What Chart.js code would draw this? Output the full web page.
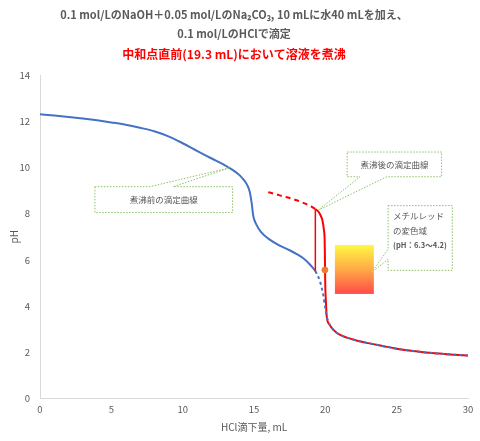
<!DOCTYPE html>
<html>
<head>
<meta charset="utf-8">
<script src="https://cdn.jsdelivr.net/npm/chart.js@4.4.1/dist/chart.umd.min.js"></script>
<style>
  html, body { margin: 0; padding: 0; background: #fff; }
  #wrap { width: 480px; height: 441px; }
</style>
</head>
<body>
<div id="wrap"><canvas id="chart"></canvas></div>
<script>
// titration before boiling (solid blue, up to 19.3 mL)
const beforeX  = [0, 1, 2, 3, 4, 5, 6, 7, 8, 9, 10, 11, 12, 13, 13.5, 14, 14.3, 14.5, 14.7, 14.85, 14.95, 15.15, 15.5, 16.1, 16.8, 17.5, 18, 18.5, 19, 19.3];
const beforePH = [12.3, 12.25, 12.19, 12.12, 12.04, 11.95, 11.85, 11.72, 11.57, 11.35, 11.05, 10.72, 10.4, 10.08, 9.9, 9.66, 9.45, 9.27, 8.95, 8.4, 7.9, 7.55, 7.2, 6.88, 6.62, 6.42, 6.25, 6.05, 5.75, 5.52];

// continuation without boiling (dashed blue)
const noBoilX  = [19.3, 19.6, 19.85, 20.0, 20.1, 20.3, 20.6, 21, 22, 23, 24, 25, 26, 27, 28, 29, 30];
const noBoilPH = [5.52, 5.12, 4.5, 3.9, 3.55, 3.2, 2.95, 2.77, 2.55, 2.4, 2.28, 2.16, 2.07, 2.0, 1.95, 1.9, 1.86];

// boiled solution, extrapolated back (dashed red)
const boilBackX  = [16, 16.5, 17, 17.5, 18, 18.5, 19, 19.3];
const boilBackPH = [8.93, 8.85, 8.76, 8.68, 8.58, 8.46, 8.32, 8.2];

// after boiling (solid red)
const afterX  = [19.3, 19.5, 19.65, 19.8, 19.9, 19.95, 19.97, 19.98, 20.0, 20.04, 20.1, 20.3, 20.6, 21, 22, 23, 24, 25, 26, 27, 28, 29, 30];
const afterPH = [8.2, 8.1, 7.95, 7.7, 7.3, 6.9, 6.2, 5.5, 4.8, 4.2, 3.55, 3.2, 2.95, 2.77, 2.55, 2.4, 2.28, 2.16, 2.07, 2.0, 1.95, 1.9, 1.86];

// pH jump on boiling at 19.3 mL
const jumpX  = [19.3, 19.3];
const jumpPH = [8.2, 5.52];

// equivalence marker
const markX  = [19.97];
const markPH = [5.57];

// methyl red transition range box (mL, pH)
const indicatorX  = [20.67, 23.4];
const indicatorPH = [4.53, 6.65];

// callouts: box [x1, y1, x2, y2] in data units, wedge base on one side, tip
const calloutText = [['煮沸前の滴定曲線'], ['煮沸後の滴定曲線'], ['メチルレッド', 'の変色域', '(pH：6.3～4.2)']];
const calloutBox  = [[3.85, 9.17, 13.5, 8.05], [21.53, 10.67, 28.15, 9.6], [24.4, 8.35, 28.9, 5.55]];
const calloutSide = ['top', 'bottom', 'left'];
const calloutBase = [[7.7, 9.34], [22.43, 24.3], [6.47, 6.03]];
const calloutTip  = [[13.31, 9.99], [19.5, 8.15], [23.24, 5.45]];

const BLUE = '#4472C4';
const RED = '#FF0000';
const GREEN = '#8CC168';
const TXT = '#595959';
const JP = "'Noto Sans CJK JP', 'Noto Sans', sans-serif";

function pts(xs, ys){ return xs.map((x, i) => ({x, y: ys[i]})); }

const overlay = {
  id: 'overlay',
  afterDatasetsDraw(chart){
    const ctx = chart.ctx, sx = chart.scales.x, sy = chart.scales.y;
    // indicator gradient box
    const x1 = sx.getPixelForValue(indicatorX[0]), x2 = sx.getPixelForValue(indicatorX[1]);
    const yt = sy.getPixelForValue(indicatorPH[1]), yb = sy.getPixelForValue(indicatorPH[0]);
    const g = ctx.createLinearGradient(0, yt, 0, yb);
    g.addColorStop(0, '#FFF845');
    g.addColorStop(0.5, '#FFAA45');
    g.addColorStop(1, '#FF4B4B');
    ctx.save();
    ctx.fillStyle = g;
    ctx.fillRect(x1, yt, x2 - x1, yb - yt);
    ctx.restore();

    calloutText.forEach((lines, i) => {
      const b = calloutBox[i];
      const L = sx.getPixelForValue(b[0]), T = sy.getPixelForValue(b[1]);
      const R = sx.getPixelForValue(b[2]), B = sy.getPixelForValue(b[3]);
      const tx = sx.getPixelForValue(calloutTip[i][0]), ty = sy.getPixelForValue(calloutTip[i][1]);
      const side = calloutSide[i], base = calloutBase[i];
      ctx.save();
      ctx.beginPath();
      ctx.moveTo(L, T);
      if(side === 'top'){
        ctx.lineTo(sx.getPixelForValue(base[0]), T); ctx.lineTo(tx, ty);
        ctx.lineTo(sx.getPixelForValue(base[1]), T);
      }
      ctx.lineTo(R, T);
      ctx.lineTo(R, B);
      if(side === 'bottom'){
        ctx.lineTo(sx.getPixelForValue(base[1]), B); ctx.lineTo(tx, ty);
        ctx.lineTo(sx.getPixelForValue(base[0]), B);
      }
      ctx.lineTo(L, B);
      if(side === 'left'){
        ctx.lineTo(L, sy.getPixelForValue(base[1])); ctx.lineTo(tx, ty);
        ctx.lineTo(L, sy.getPixelForValue(base[0]));
      }
      ctx.closePath();
      ctx.fillStyle = '#fff';
      ctx.fill();
      ctx.setLineDash([1.5, 1.5]);
      ctx.lineWidth = 1;
      ctx.strokeStyle = GREEN;
      ctx.stroke();
      ctx.setLineDash([]);
      ctx.fillStyle = TXT;
      ctx.textBaseline = 'middle';
      if(lines.length === 1){
        ctx.font = '8.5px ' + JP;
        ctx.textAlign = 'center';
        ctx.fillText(lines[0], (L + R) / 2, (T + B) / 2);
      } else {
        ctx.textAlign = 'left';
        lines.forEach((s, k) => {
          ctx.font = (k === 2 ? 'bold 7.5px ' : '8.5px ') + JP;
          ctx.fillText(s, L + 5, T + 10 + k * 15);
        });
      }
      ctx.restore();
    });
  }
};

new Chart(document.getElementById('chart'), {
  type: 'line',
  data: {
    datasets: [
      { data: pts(markX, markPH), showLine: false, pointRadius: 3, pointBackgroundColor: '#ED7D31', pointBorderColor: '#ED7D31', order: 0 },
      { data: pts(noBoilX, noBoilPH), borderColor: BLUE, borderWidth: 2, borderDash: [3, 3], pointRadius: 0, cubicInterpolationMode: 'monotone', order: 1 },
      { data: pts(afterX, afterPH), borderColor: RED, borderWidth: 2, pointRadius: 0, cubicInterpolationMode: 'monotone', order: 2 },
      { data: pts(jumpX, jumpPH), borderColor: RED, borderWidth: 1.5, pointRadius: 0, order: 3 },
      { data: pts(boilBackX, boilBackPH), borderColor: RED, borderWidth: 2, borderDash: [5, 4], pointRadius: 0, cubicInterpolationMode: 'monotone', order: 4 },
      { data: pts(beforeX, beforePH), borderColor: BLUE, borderWidth: 2, pointRadius: 0, cubicInterpolationMode: 'monotone', order: 5 }
    ]
  },
  options: {
    responsive: true,
    maintainAspectRatio: false,
    animation: false,
    layout: { padding: { left: 0, right: 12, top: 0, bottom: 8 } },
    plugins: {
      legend: { display: false },
      tooltip: { enabled: false },
      title: {
        display: true,
        text: ['0.1 mol/LのNaOH＋0.05 mol/LのNa₂CO₃, 10 mLに水40 mLを加え、', '0.1 mol/LのHClで滴定'],
        color: TXT,
        font: { family: JP, size: 11, weight: 'bold', lineHeight: 1.73 },
        padding: { top: 5, bottom: 0 }
      },
      subtitle: {
        display: true,
        text: '中和点直前(19.3 mL)において溶液を煮沸',
        color: RED,
        font: { family: JP, size: 12, weight: 'bold', lineHeight: 1.25 },
        padding: { top: 4, bottom: 13 }
      }
    },
    scales: {
      x: {
        type: 'linear', min: 0, max: 30,
        grid: { display: false, drawTicks: false },
        border: { color: '#D9D9D9' },
        ticks: { stepSize: 5, color: TXT, padding: 5, font: { family: JP, size: 9.5 } },
        title: { display: true, text: 'HCl滴下量, mL', color: TXT, font: { family: JP, size: 10 }, padding: { top: 1, bottom: 0 } }
      },
      y: {
        min: 0, max: 14,
        grid: { display: false, drawTicks: false },
        border: { color: '#D9D9D9' },
        afterFit(scale){ scale.width = 40; },
        ticks: { stepSize: 2, color: TXT, padding: 10, font: { family: JP, size: 9.5 } },
        title: { display: true, text: 'pH', color: TXT, font: { family: JP, size: 10 }, padding: { top: 8, bottom: 0 } }
      }
    }
  },
  plugins: [overlay]
});
</script>
</body>
</html>
